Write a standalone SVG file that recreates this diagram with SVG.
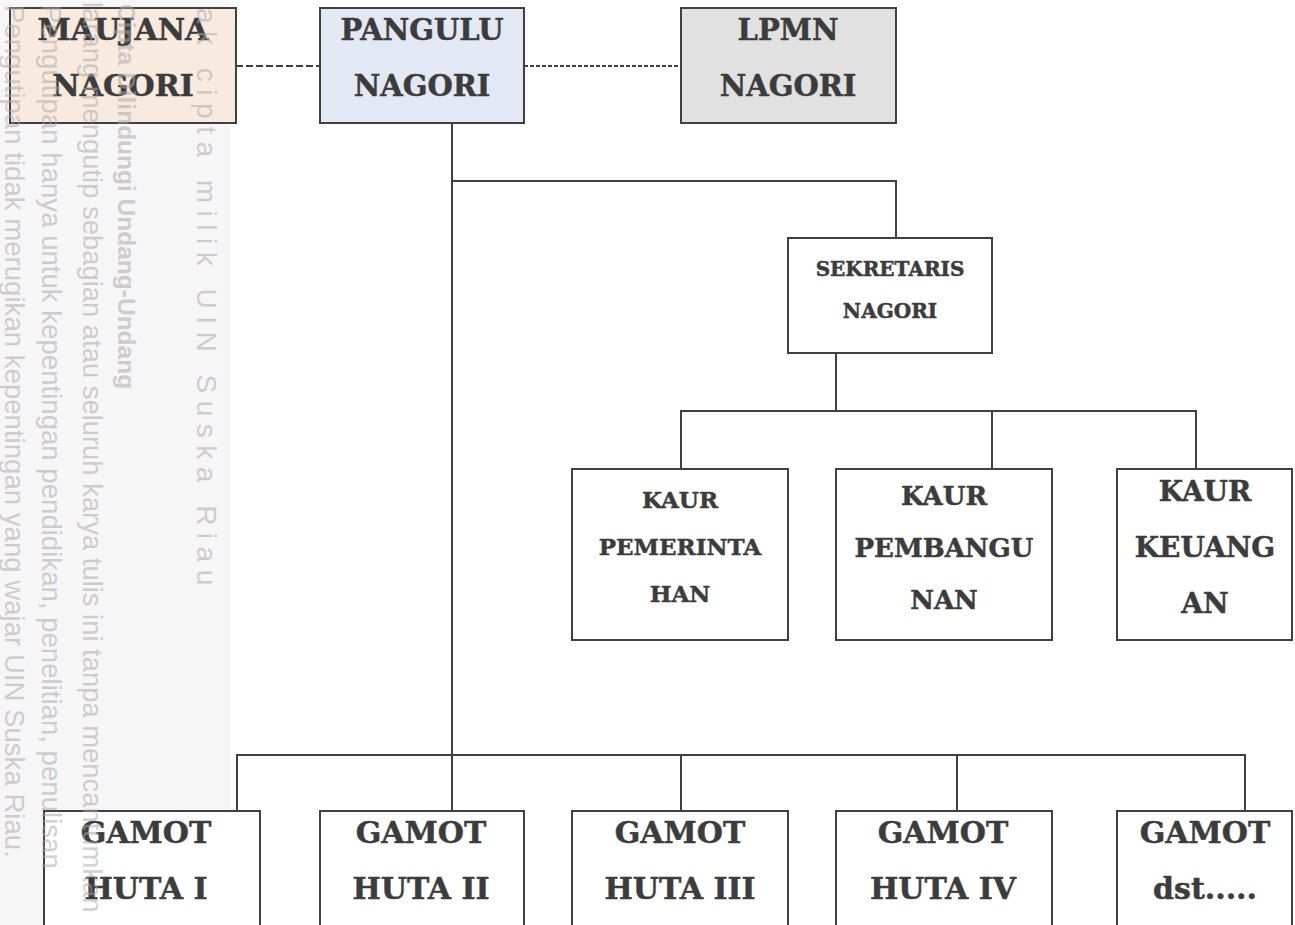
<svg xmlns="http://www.w3.org/2000/svg" width="1295" height="925" viewBox="0 0 1295 925">
<style>
.box{stroke:#404040;stroke-width:2;}
.t{font-family:"DejaVu Serif","Liberation Serif",serif;font-weight:bold;fill:#3c3c3c;stroke:#3c3c3c;stroke-width:0.5;text-anchor:middle;}
.ln{stroke:#404040;stroke-width:2;fill:none;}
.wm{font-family:"Liberation Sans",Arial,sans-serif;fill:#a8a8a8;fill-opacity:0.55;}
</style>
<rect x="0" y="0" width="1295" height="925" fill="#ffffff"/>
<rect x="0" y="0" width="230" height="925" fill="#f6f6f6"/>
<g id="connectors">
<line class="ln" x1="236" y1="66" x2="320" y2="66" stroke-dasharray="7 3" stroke-width="2.5"/>
<line class="ln" x1="524" y1="66" x2="681" y2="66" stroke-dasharray="4 2" stroke-width="1.5"/>
<line class="ln" x1="452" y1="123" x2="452" y2="811"/>
<polyline class="ln" points="452,181 896,181 896,238"/>
<line class="ln" x1="836" y1="353" x2="836" y2="411"/>
<polyline class="ln" points="681,469 681,411 1196,411 1196,469"/>
<line class="ln" x1="992" y1="411" x2="992" y2="469"/>
<polyline class="ln" points="237,811 237,755 1245,755 1245,811"/>
<line class="ln" x1="681" y1="755" x2="681" y2="811"/>
<line class="ln" x1="957" y1="755" x2="957" y2="811"/>
</g>
<g id="maujana">
<rect class="box" x="10" y="8" width="226" height="115" fill="#f9eadf"/>
<text class="t" x="123" y="40" font-size="30">MAUJANA</text>
<text class="t" x="123" y="96" font-size="30">NAGORI</text>
</g>
<g id="pangulu">
<rect class="box" x="320" y="8" width="204" height="115" fill="#e3e9f4"/>
<text class="t" x="422" y="40" font-size="29">PANGULU</text>
<text class="t" x="422" y="96" font-size="29">NAGORI</text>
</g>
<g id="lpmn">
<rect class="box" x="681" y="8" width="215" height="115" fill="#e1e1e1"/>
<text class="t" x="788" y="40" font-size="29">LPMN</text>
<text class="t" x="788" y="96" font-size="29">NAGORI</text>
</g>
<g id="sekretaris">
<rect class="box" x="788" y="238" width="204" height="115" fill="#ffffff"/>
<text class="t" x="890" y="276" font-size="20">SEKRETARIS</text>
<text class="t" x="890" y="318" font-size="20">NAGORI</text>
</g>
<g id="kaur-pemerintahan">
<rect class="box" x="572" y="469" width="216" height="171" fill="#ffffff"/>
<text class="t" x="680" y="508" font-size="23">KAUR</text>
<text class="t" x="680" y="555" font-size="23">PEMERINTA</text>
<text class="t" x="680" y="602" font-size="23">HAN</text>
</g>
<g id="kaur-pembangunan">
<rect class="box" x="836" y="469" width="216" height="171" fill="#ffffff"/>
<text class="t" x="944" y="505" font-size="26">KAUR</text>
<text class="t" x="944" y="557" font-size="26">PEMBANGU</text>
<text class="t" x="944" y="609" font-size="26">NAN</text>
</g>
<g id="kaur-keuangan">
<rect class="box" x="1117" y="469" width="175" height="171" fill="#ffffff"/>
<text class="t" x="1205" y="501" font-size="28">KAUR</text>
<text class="t" x="1205" y="557" font-size="28">KEUANG</text>
<text class="t" x="1205" y="613" font-size="28">AN</text>
</g>
<g id="gamot-1">
<rect class="box" x="44" y="811" width="216" height="130" fill="#ffffff"/>
<text class="t" x="146" y="843" font-size="30">GAMOT</text>
<text class="t" x="146" y="899" font-size="30">HUTA I</text>
</g>
<g id="gamot-2">
<rect class="box" x="320" y="811" width="204" height="130" fill="#ffffff"/>
<text class="t" x="421" y="843" font-size="30">GAMOT</text>
<text class="t" x="421" y="899" font-size="30">HUTA II</text>
</g>
<g id="gamot-3">
<rect class="box" x="572" y="811" width="216" height="130" fill="#ffffff"/>
<text class="t" x="680" y="843" font-size="30">GAMOT</text>
<text class="t" x="680" y="899" font-size="30">HUTA III</text>
</g>
<g id="gamot-4">
<rect class="box" x="836" y="811" width="216" height="130" fill="#ffffff"/>
<text class="t" x="943" y="843" font-size="30">GAMOT</text>
<text class="t" x="943" y="899" font-size="30">HUTA IV</text>
</g>
<g id="gamot-dst">
<rect class="box" x="1117" y="811" width="175" height="130" fill="#ffffff"/>
<text class="t" x="1205" y="843" font-size="30">GAMOT</text>
<text class="t" x="1205" y="899" font-size="30">dst.....</text>
</g>
<g id="watermark">
<text class="wm" transform="translate(5,5) rotate(90)" font-size="27.6">Pengutipan tidak merugikan kepentingan yang wajar UIN Suska Riau.</text>
<text class="wm" transform="translate(42,5) rotate(90)" font-size="27.6">Pengutipan hanya untuk kepentingan pendidikan, penelitian, penulisan</text>
<text class="wm" transform="translate(83,2) rotate(90)" font-size="27.4">larang mengutip sebagian atau seluruh karya tulis ini tanpa mencantumkan</text>
<text class="wm" transform="translate(118,4) rotate(90)" font-size="24.5" font-weight="bold" fill="#9a9a9a">Cipta Dilindungi Undang-Undang</text>
<text class="wm" transform="translate(197,8) rotate(90)" font-size="28" letter-spacing="7.5" fill="#9fd2b9">ak cipta milik UIN Suska Riau</text>
</g>
</svg>
